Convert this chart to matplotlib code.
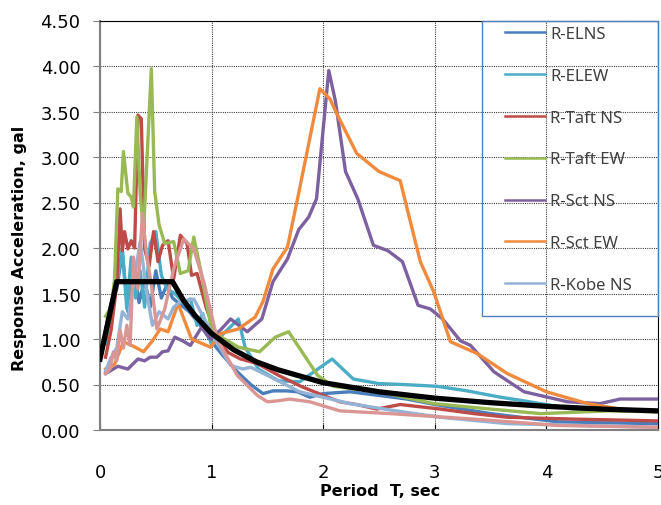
import matplotlib
matplotlib.use("Agg")
import matplotlib.pyplot as plt
from matplotlib.patches import Rectangle
from matplotlib.lines import Line2D

plt.rcParams['font.family'] = ['Noto Sans', 'DejaVu Sans']

# ---- data ----
elns_T = [0.05,0.1,0.15,0.2,0.25,0.3,0.35,0.4,0.45,0.5,0.55,0.6,0.65,0.7,0.8,0.9,1.0,1.1,1.23,1.35,1.46,1.55,1.67,1.77,1.88,2.0,2.24,2.5,2.75,3.0,3.5,4.1,4.5,5.0]
elns_v = [1.10,1.40,1.55,1.95,1.30,1.85,1.40,1.65,1.35,1.75,1.45,1.60,1.45,1.40,1.30,1.15,0.97,0.82,0.64,0.50,0.40,0.43,0.43,0.42,0.36,0.40,0.42,0.38,0.34,0.28,0.18,0.09,0.08,0.07]

elew_T = [0.05,0.1,0.15,0.2,0.24,0.28,0.32,0.36,0.4,0.45,0.5,0.55,0.6,0.67,0.75,0.81,0.87,0.92,1.0,1.1,1.24,1.3,1.42,1.6,1.79,2.08,2.27,2.5,2.72,3.02,3.29,3.59,3.8,4.24,5.0]
elew_v = [0.95,1.30,1.60,2.00,1.33,1.90,1.45,1.75,1.35,2.05,2.18,1.70,1.55,1.50,1.40,1.44,1.15,1.28,0.93,1.05,1.22,0.91,0.67,0.54,0.53,0.78,0.56,0.51,0.50,0.48,0.43,0.36,0.32,0.23,0.21]

taftns_T = [0.05,0.1,0.15,0.18,0.2,0.22,0.25,0.28,0.31,0.34,0.37,0.4,0.44,0.48,0.52,0.56,0.61,0.66,0.72,0.78,0.82,0.87,0.95,1.05,1.15,1.26,1.41,1.6,1.8,2.0,2.15,2.3,2.48,2.69,3.05,3.35,3.65,4.24,5.0]
taftns_v = [0.80,1.10,1.60,2.43,1.97,2.18,1.99,2.08,2.00,3.46,3.42,1.99,1.80,2.18,1.85,2.03,2.08,1.66,2.14,2.05,1.70,1.72,1.35,1.00,0.85,0.78,0.73,0.60,0.48,0.38,0.31,0.28,0.23,0.28,0.23,0.18,0.14,0.12,0.10]

tafttew_T = [0.05,0.1,0.13,0.16,0.19,0.21,0.25,0.28,0.3,0.33,0.36,0.39,0.46,0.49,0.53,0.58,0.66,0.72,0.79,0.84,0.9,1.0,1.06,1.24,1.43,1.57,1.69,1.95,2.09,2.5,2.99,3.5,3.95,4.55,5.0]
tafttew_v = [1.25,1.35,1.65,2.65,2.62,3.06,2.60,2.56,2.45,3.44,2.60,2.18,3.97,2.62,2.25,2.05,2.07,1.72,1.75,2.12,1.77,1.10,1.04,0.91,0.86,1.02,1.08,0.60,0.48,0.42,0.29,0.23,0.18,0.21,0.20]

sctns_T = [0.05,0.16,0.25,0.34,0.4,0.45,0.51,0.56,0.61,0.67,0.74,0.81,0.91,0.99,1.08,1.17,1.32,1.45,1.55,1.68,1.78,1.87,1.94,2.05,2.11,2.2,2.31,2.45,2.58,2.71,2.85,2.96,3.07,3.23,3.32,3.53,3.8,4.19,4.48,4.66,5.0]
sctns_v = [0.62,0.70,0.67,0.78,0.76,0.80,0.80,0.86,0.87,1.02,0.98,0.93,1.13,1.00,1.10,1.22,1.08,1.22,1.63,1.88,2.20,2.34,2.54,3.95,3.61,2.84,2.54,2.03,1.97,1.85,1.37,1.33,1.22,0.98,0.93,0.64,0.42,0.31,0.29,0.34,0.34]

sctew_T = [0.05,0.13,0.21,0.3,0.39,0.47,0.54,0.61,0.7,0.82,0.99,1.08,1.24,1.39,1.46,1.55,1.68,1.77,1.97,2.06,2.12,2.3,2.5,2.69,2.87,2.99,3.14,3.38,3.65,4.0,4.37,4.66,5.0]
sctew_v = [0.67,0.72,0.97,0.92,0.86,0.98,1.11,1.08,1.39,1.00,0.91,1.06,1.11,1.24,1.41,1.77,2.01,2.54,3.75,3.64,3.48,3.04,2.84,2.74,1.85,1.52,0.97,0.84,0.62,0.42,0.29,0.23,0.20]

kobens_T = [0.05,0.1,0.15,0.2,0.25,0.3,0.36,0.42,0.47,0.53,0.61,0.66,0.72,0.84,0.92,1.03,1.17,1.28,1.35,1.5,1.79,2.24,2.6,3.05,3.65,4.3,5.0]
kobens_v = [0.65,0.80,0.90,1.30,1.22,1.60,2.07,1.50,1.15,1.30,1.22,1.35,1.41,1.44,1.26,1.00,0.71,0.67,0.69,0.60,0.42,0.29,0.22,0.14,0.07,0.05,0.03]

kobeew_T = [0.05,0.09,0.12,0.15,0.18,0.21,0.24,0.27,0.3,0.34,0.38,0.42,0.46,0.51,0.58,0.66,0.75,0.84,0.93,1.05,1.23,1.41,1.5,1.59,1.7,1.88,2.15,2.6,3.35,4.1,5.0]
kobeew_v = [0.62,0.67,0.86,0.76,1.10,0.90,1.15,0.93,1.90,1.55,2.38,1.90,1.60,1.11,1.33,1.77,2.10,1.99,1.63,1.00,0.60,0.38,0.31,0.32,0.34,0.31,0.21,0.18,0.12,0.05,0.03]

design_T = [0, 0.15, 0.65, 0.75, 0.85, 1.0, 1.2, 1.4, 1.6, 1.8, 2.0, 2.5, 3.0, 3.5, 4.0, 4.5, 5.0]
design_v = [0.78, 1.63, 1.63, 1.42, 1.26, 1.06, 0.88, 0.75, 0.66, 0.59, 0.52, 0.42, 0.35, 0.30, 0.26, 0.23, 0.21]

labels = ["R-ELNS", "R-ELEW", "R-Taft NS", "R-Taft EW", "R-Sct NS", "R-Sct EW", "R-Kobe NS"]
yticks = [0.0, 0.5, 1.0, 1.5, 2.0, 2.5, 3.0, 3.5, 4.0, 4.5]
xticks = [0, 1, 2, 3, 4, 5]

series = [
    (elns_T, elns_v, '#4A7EBB', labels[0]),
    (elew_T, elew_v, '#4BACC6', labels[1]),
    (taftns_T, taftns_v, '#BE4B48', labels[2]),
    (tafttew_T, tafttew_v, '#98B954', labels[3]),
    (sctns_T, sctns_v, '#7D60A0', labels[4]),
    (sctew_T, sctew_v, '#F08A3C', labels[5]),
    (kobens_T, kobens_v, '#94B3D6', labels[6]),
    (kobeew_T, kobeew_v, '#D99694', '_nolegend_'),
]

fig = plt.figure(figsize=(6.61, 5.06), dpi=100)
ax = fig.add_axes([100/661, 75/506, 558/661, 409.5/506])

handles = []
for T, v, c, lab in series:
    ln, = ax.plot(T, v, color=c, lw=2.4, solid_joinstyle='round', label=lab, zorder=3)
    if lab != '_nolegend_':
        handles.append(ln)
ax.plot(design_T, design_v, color='black', lw=3.8, zorder=5)

ax.set_xlim(0, 5)
ax.set_ylim(0, 4.5)
ax.set_yticks(yticks)
ax.set_yticklabels([f"{t:.2f}" for t in yticks], family='DejaVu Sans')
ax.set_xticks(xticks)
ax.set_xticklabels([str(t) for t in xticks], family='DejaVu Sans')
ax.tick_params(axis='both', labelsize=13, colors='black')
ax.tick_params(axis='y', direction='out', length=5, color='#808080', pad=9)
ax.tick_params(axis='x', direction='in', length=4, color='black', pad=24)

ax.grid(True, color='#404040', linestyle=(0, (1, 1)), linewidth=0.8, zorder=0)
ax.set_axisbelow(True)
ax.spines['left'].set_color('#808080')
ax.spines['left'].set_linewidth(1.5)
ax.spines['bottom'].set_color('#808080')
ax.spines['bottom'].set_linewidth(1.5)
ax.spines['top'].set_color('black')
ax.spines['right'].set_color('black')

ax.set_xlabel("Period  T, sec", fontsize=11.5, fontweight='bold', family='DejaVu Sans')
ax.set_ylabel("Response Acceleration, gal", fontsize=11.5, fontweight='bold', family='DejaVu Sans')
ax.xaxis.set_label_coords(0.502, -0.129)
ax.yaxis.set_label_coords(-0.131, 0.446)

leg_handles = [Line2D([0], [0], color=h.get_color(), lw=1.8) for h in handles]
leg = fig.legend(leg_handles, labels, loc='upper left',
                 bbox_to_anchor=(505/661, 1 - 27/506), bbox_transform=fig.transFigure,
                 frameon=False, fontsize=12, handlelength=2.4, handletextpad=0.3,
                 labelspacing=1.55, borderpad=0, borderaxespad=0)
for t in leg.get_texts():
    t.set_color('#404040')

fig.patches.append(Rectangle((482/661, 1 - 317/506), 176/661, 295/506,
                             transform=fig.transFigure, fill=False,
                             edgecolor='#4F81BD', linewidth=1.0, zorder=10))

fig.savefig("out.png", dpi=100)
